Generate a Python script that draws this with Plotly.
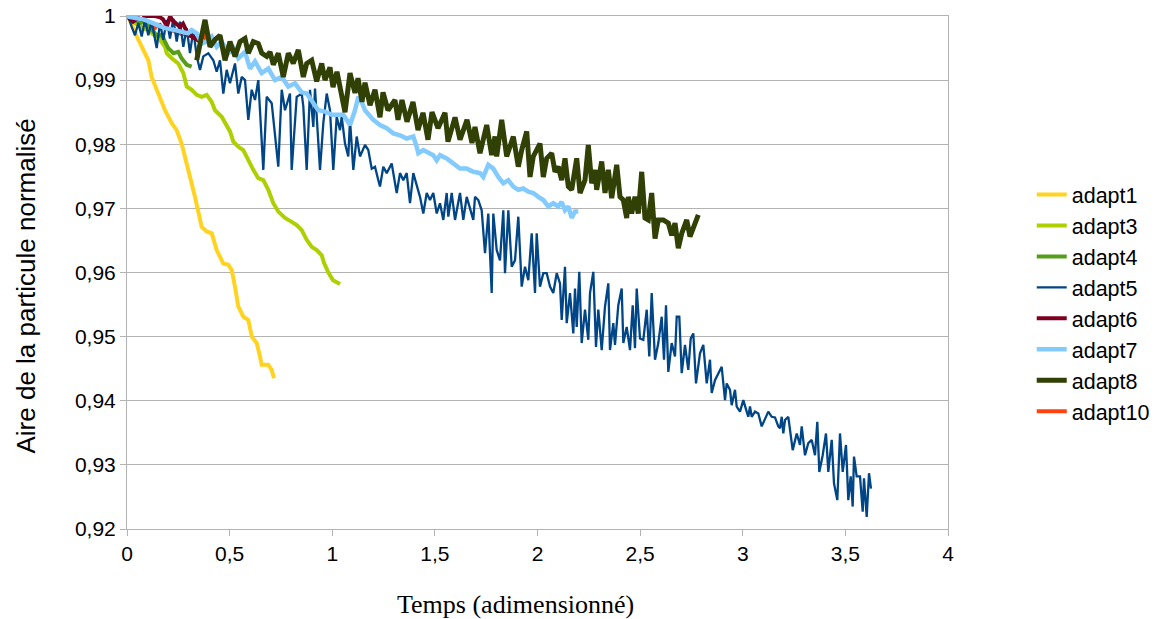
import plotly.graph_objects as go

# ---------------- data ----------------
adapt1_t = [0, 0.0063, 0.055, 0.104, 0.120, 0.152, 0.185, 0.218, 0.242, 0.266, 0.283, 0.307, 0.331,
            0.347, 0.364, 0.388, 0.413, 0.437, 0.469, 0.494, 0.510, 0.526, 0.542, 0.567, 0.591, 0.608,
            0.632, 0.648, 0.656, 0.688, 0.705, 0.716]
adapt1_a = [1.0, 0.9999, 0.9963, 0.9931, 0.9905, 0.9879, 0.9853, 0.9833, 0.9822, 0.9801, 0.9781, 0.9749,
            0.9718, 0.9698, 0.9671, 0.9664, 0.9661, 0.9635, 0.9614, 0.9612, 0.9604, 0.9578, 0.9547, 0.9531,
            0.9526, 0.9500, 0.9490, 0.9469, 0.9456, 0.9456, 0.9448, 0.9435]

adapt3_t = [0, 0.0063, 0.039, 0.0716, 0.1038, 0.1364, 0.1608, 0.1851, 0.1934, 0.2178, 0.2499, 0.2743,
            0.2909, 0.3152, 0.3396, 0.3639, 0.3883, 0.4127, 0.4287, 0.4614, 0.4857, 0.5018, 0.5179, 0.5423,
            0.5666, 0.5910, 0.6153, 0.6397, 0.6641, 0.6884, 0.7128, 0.7371, 0.7698, 0.8024, 0.8268, 0.8512,
            0.8755, 0.8999, 0.9242, 0.9486, 0.9598, 0.9793, 1.0037, 1.0378]
adapt3_a = [1.0, 0.9999, 0.9989, 0.9981, 0.9978, 0.9970, 0.9963, 0.9952, 0.9942, 0.9934, 0.9926, 0.9911,
            0.9890, 0.9885, 0.9877, 0.9874, 0.9877, 0.9866, 0.9853, 0.9843, 0.9830, 0.9820, 0.9804, 0.9796,
            0.9791, 0.9775, 0.9760, 0.9747, 0.9744, 0.9729, 0.9708, 0.9695, 0.9685, 0.9679, 0.9674, 0.9666,
            0.9651, 0.9640, 0.9635, 0.9627, 0.9615, 0.9601, 0.9588, 0.9582]

adapt4_t = [0, 0.0063, 0.039, 0.063, 0.088, 0.104, 0.128, 0.152, 0.169, 0.185, 0.201, 0.226, 0.250,
            0.266, 0.291, 0.315]
adapt4_a = [1.0, 0.9999, 0.9994, 0.9989, 0.9991, 0.9984, 0.9976, 0.9968, 0.9971, 0.9960, 0.9950, 0.9942,
            0.9944, 0.9934, 0.9924, 0.9921]

adapt5_t = [0, 0.0063, 0.0229, 0.0390, 0.0551, 0.0716, 0.0877, 0.1038, 0.1203, 0.1447, 0.1608, 0.1769,
            0.1934, 0.2095, 0.2256, 0.2421, 0.2582, 0.2743, 0.2909, 0.3069, 0.3230, 0.3396, 0.3557, 0.3717,
            0.3961, 0.4205, 0.4370, 0.4531, 0.4692, 0.4857, 0.5018, 0.5262, 0.5423, 0.5588, 0.5749, 0.5910,
            0.6075, 0.6236, 0.6397, 0.6641, 0.6806, 0.7050, 0.7371, 0.7537, 0.7698, 0.7941, 0.8024, 0.8268,
            0.8512, 0.8590, 0.8755, 0.8916, 0.9077, 0.9160, 0.9403, 0.9564, 0.9730, 0.9890, 1.0051, 1.0217,
            1.0378, 1.0460, 1.0621, 1.0782, 1.0865, 1.1026, 1.1191, 1.1352, 1.1596, 1.1756, 1.1922, 1.2083,
            1.2244, 1.2326, 1.2487, 1.2653, 1.2896, 1.3140, 1.3301, 1.3462, 1.3627, 1.3788, 1.3949, 1.4114,
            1.4275, 1.4436, 1.4602, 1.4762, 1.4923, 1.5089, 1.5250, 1.5411, 1.5576, 1.5654, 1.5820, 1.5981,
            1.6224, 1.6385, 1.6551, 1.6872, 1.6955, 1.7116, 1.7281, 1.7442, 1.7603, 1.7768, 1.7847, 1.8012,
            1.8173, 1.8334, 1.8416, 1.8578, 1.8743, 1.8904, 1.9065, 1.9230, 1.9391, 1.9552, 1.9717, 1.9878,
            1.9961, 2.0122, 2.0283, 2.0448, 2.0609, 2.0770, 2.0936, 2.1096, 2.1179, 2.1340, 2.1423, 2.1583,
            2.1744, 2.1827, 2.1910, 2.2036, 2.2153, 2.2314, 2.2475, 2.2558, 2.2719, 2.2850, 2.2962, 2.3128,
            2.3289, 2.3450, 2.3532, 2.3693, 2.3776, 2.3937, 2.4102, 2.4181, 2.4346, 2.4507, 2.4638, 2.4750,
            2.4833, 2.4994, 2.5155, 2.5321, 2.5447, 2.5564, 2.5725, 2.5886, 2.6051, 2.6163, 2.6261, 2.6373,
            2.6538, 2.6699, 2.6782, 2.6909, 2.7026, 2.7186, 2.7347, 2.7464, 2.7591, 2.7722, 2.7917, 2.8078,
            2.8244, 2.8404, 2.8487, 2.8648, 2.8809, 2.8974, 2.9135, 2.9218, 2.9379, 2.9461, 2.9622, 2.9705,
            2.9866, 3.0027, 3.0192, 3.0270, 3.0353, 3.0436, 3.0597, 3.0758, 3.0923, 3.1084, 3.1245, 3.1410,
            3.1571, 3.1732, 3.1815, 3.1897, 3.1976, 3.2058, 3.2219, 3.2434, 3.2629, 3.2789, 3.2872, 3.3033,
            3.3194, 3.3359, 3.3520, 3.3632, 3.3730, 3.3895, 3.4056, 3.4168, 3.4334, 3.4446, 3.4607, 3.4738,
            3.4870, 3.5030, 3.5143, 3.5260, 3.5357, 3.5420, 3.5552, 3.5713, 3.5844, 3.5907, 3.6039, 3.6151,
            3.6248]
adapt5_a = [1.0, 0.9999, 0.9983, 0.9970, 0.9989, 0.9968, 0.9994, 0.9970, 0.9991, 0.9950, 0.9989, 0.9963,
            0.9994, 0.9965, 0.9996, 0.9960, 0.9991, 0.9952, 0.9981, 0.9942, 0.9978, 0.9937, 0.9916, 0.9937,
            0.9942, 0.9931, 0.9913, 0.9931, 0.9879, 0.9916, 0.9895, 0.9926, 0.9879, 0.9905, 0.9900, 0.9838,
            0.9885, 0.9869, 0.9900, 0.9760, 0.9874, 0.9864, 0.9765, 0.9885, 0.9853, 0.9879, 0.9760, 0.9874,
            0.9879, 0.9859, 0.9760, 0.9885, 0.9827, 0.9887, 0.9760, 0.9833, 0.9879, 0.9853, 0.9760, 0.9843,
            0.9822, 0.9843, 0.9801, 0.9781, 0.9838, 0.9760, 0.9812, 0.9781, 0.9799, 0.9791, 0.9762, 0.9765,
            0.9744, 0.9734, 0.9765, 0.9755, 0.9770, 0.9724, 0.9755, 0.9744, 0.9755, 0.9708, 0.9755, 0.9734,
            0.9718, 0.9692, 0.9724, 0.9713, 0.9724, 0.9692, 0.9708, 0.9682, 0.9724, 0.9687, 0.9724, 0.9682,
            0.9724, 0.9682, 0.9718, 0.9682, 0.9718, 0.9713, 0.9697, 0.9630, 0.9692, 0.9568, 0.9692, 0.9635,
            0.9619, 0.9697, 0.9599, 0.9697, 0.9609, 0.9619, 0.9687, 0.9578, 0.9609, 0.9588, 0.9661, 0.9568,
            0.9661, 0.9578, 0.9599, 0.9599, 0.9578, 0.9568, 0.9599, 0.9583, 0.9526, 0.9609, 0.9521, 0.9568,
            0.9505, 0.9575, 0.9515, 0.9601, 0.9490, 0.9542, 0.9495, 0.9568, 0.9601, 0.9484, 0.9542, 0.9479,
            0.9547, 0.9583, 0.9479, 0.9521, 0.9487, 0.9549, 0.9575, 0.9490, 0.9515, 0.9479, 0.9549, 0.9482,
            0.9575, 0.9497, 0.9495, 0.9542, 0.9469, 0.9568, 0.9464, 0.9490, 0.9531, 0.9464, 0.9549, 0.9445,
            0.9490, 0.9469, 0.9531, 0.9531, 0.9443, 0.9487, 0.9448, 0.9497, 0.9505, 0.9427, 0.9474, 0.9487,
            0.9427, 0.9464, 0.9412, 0.9432, 0.9443, 0.9453, 0.9401, 0.9427, 0.9417, 0.9393, 0.9417, 0.9391,
            0.9383, 0.9401, 0.9383, 0.9375, 0.9391, 0.9375, 0.9383, 0.9380, 0.9360, 0.9373, 0.9383, 0.9375,
            0.9374, 0.9360, 0.9357, 0.9375, 0.9349, 0.9370, 0.9375, 0.9323, 0.9349, 0.9331, 0.9360, 0.9315,
            0.9334, 0.9339, 0.9315, 0.9367, 0.9289, 0.9315, 0.9349, 0.9289, 0.9339, 0.9271, 0.9245, 0.9349,
            0.9289, 0.9331, 0.9245, 0.9282, 0.9235, 0.9313, 0.9282, 0.9282, 0.9227, 0.9279, 0.9219, 0.9287,
            0.9263]

adapt6_t = [0, 0.005, 0.029, 0.054, 0.073, 0.088, 0.112, 0.136, 0.161, 0.175, 0.195, 0.210, 0.219,
            0.239, 0.258, 0.273, 0.288, 0.307, 0.326, 0.346, 0.361, 0.370]
adapt6_a = [1.0, 0.9998, 0.9991, 0.9997, 0.9994, 1.0, 1.0, 1.0, 0.9998, 0.9995, 0.9984, 1.0, 0.9994,
            0.9988, 0.9983, 0.9988, 0.9978, 0.9970, 0.9966, 0.9963, 0.9959, 0.9961]

adapt7_t = [0, 0.0063, 0.0877, 0.1851, 0.2339, 0.2972, 0.3152, 0.3396, 0.3639, 0.3883, 0.4127, 0.4370,
            0.4614, 0.4935, 0.5179, 0.5423, 0.5749, 0.5993, 0.6236, 0.6563, 0.6884, 0.7211, 0.7537, 0.7859,
            0.8185, 0.8512, 0.8755, 0.9077, 0.9320, 0.9647, 0.9973, 1.0217, 1.0539, 1.0865, 1.1108, 1.1269,
            1.1435, 1.1596, 1.1839, 1.2000, 1.2326, 1.2653, 1.2974, 1.3301, 1.3627, 1.3949, 1.4114, 1.4192,
            1.4436, 1.4680, 1.4923, 1.5089, 1.5250, 1.5576, 1.5898, 1.6224, 1.6551, 1.6872, 1.7199, 1.7360,
            1.7603, 1.7847, 1.8090, 1.8334, 1.8578, 1.8821, 1.9065, 1.9308, 1.9552, 1.9795, 2.0039, 2.0283,
            2.0526, 2.0770, 2.1013, 2.1179, 2.1340, 2.1501, 2.1666, 2.1827, 2.1988]
adapt7_a = [1.0, 0.9999, 0.9994, 0.9981, 0.9978, 0.9973, 0.9978, 0.9973, 0.9957, 0.9960, 0.9968, 0.9952,
            0.9960, 0.9942, 0.9950, 0.9934, 0.9944, 0.9918, 0.9929, 0.9911, 0.9918, 0.9900, 0.9905, 0.9890,
            0.9895, 0.9881, 0.9879, 0.9864, 0.9853, 0.9851, 0.9846, 0.9846, 0.9846, 0.9830, 0.9853, 0.9874,
            0.9866, 0.9853, 0.9843, 0.9838, 0.9830, 0.9825, 0.9817, 0.9814, 0.9809, 0.9812, 0.9796, 0.9786,
            0.9791, 0.9786, 0.9783, 0.9775, 0.9783, 0.9778, 0.9770, 0.9762, 0.9762, 0.9757, 0.9755, 0.9749,
            0.9768, 0.9762, 0.9749, 0.9739, 0.9744, 0.9734, 0.9729, 0.9731, 0.9726, 0.9724, 0.9718, 0.9713,
            0.9703, 0.9708, 0.9703, 0.9710, 0.9697, 0.9703, 0.9685, 0.9695, 0.9695]

adapt8_t = [0.3396, 0.3800, 0.4044, 0.4287, 0.4531, 0.4775, 0.5018, 0.5262, 0.5505, 0.5749, 0.5910,
            0.6153, 0.6397, 0.6563, 0.6806, 0.6967, 0.7128, 0.7371, 0.7615, 0.7859, 0.8102, 0.8346, 0.8590,
            0.8755, 0.8999, 0.9242, 0.9486, 0.9647, 0.9890, 1.0037, 1.0231, 1.0621, 1.0865, 1.1108, 1.1255,
            1.1449, 1.1596, 1.1839, 1.2083, 1.2326, 1.2473, 1.2716, 1.3057, 1.3203, 1.3398, 1.3642, 1.3934,
            1.4178, 1.4421, 1.4665, 1.4860, 1.5152, 1.5493, 1.5639, 1.5981, 1.6224, 1.6565, 1.6809, 1.6955,
            1.7199, 1.7525, 1.7768, 1.7929, 1.8012, 1.8256, 1.8499, 1.8821, 1.9065, 1.9230, 1.9474, 1.9635,
            1.9795, 2.0122, 2.0283, 2.0448, 2.0692, 2.0853, 2.1013, 2.1179, 2.1340, 2.1501, 2.1666, 2.1910,
            2.2071, 2.2314, 2.2475, 2.2641, 2.2802, 2.2884, 2.3128, 2.3289, 2.3450, 2.3615, 2.3859, 2.4019,
            2.4181, 2.4346, 2.4424, 2.4589, 2.4750, 2.4911, 2.5077, 2.5237, 2.5398, 2.5564, 2.5725, 2.5886,
            2.6129, 2.6373, 2.6538, 2.6699, 2.6860, 2.7026, 2.7269, 2.7430, 2.7674, 2.7834]
adapt8_a = [0.9931, 0.9994, 0.9952, 0.9963, 0.9970, 0.9931, 0.9960, 0.9937, 0.9960, 0.9965, 0.9942,
            0.9960, 0.9957, 0.9942, 0.9937, 0.9944, 0.9924, 0.9942, 0.9905, 0.9942, 0.9926, 0.9947, 0.9905,
            0.9926, 0.9931, 0.9898, 0.9926, 0.9900, 0.9920, 0.9889, 0.9913, 0.9850, 0.9911, 0.9880, 0.9903,
            0.9866, 0.9896, 0.9861, 0.9885, 0.9842, 0.9881, 0.9853, 0.9869, 0.9838, 0.9869, 0.9835, 0.9866,
            0.9822, 0.9849, 0.9807, 0.9850, 0.9825, 0.9849, 0.9804, 0.9842, 0.9807, 0.9838, 0.9802, 0.9827,
            0.9786, 0.9830, 0.9783, 0.9812, 0.9781, 0.9838, 0.9781, 0.9812, 0.9765, 0.9791, 0.9820, 0.9749,
            0.9781, 0.9801, 0.9749, 0.9778, 0.9786, 0.9757, 0.9765, 0.9744, 0.9778, 0.9734, 0.9729, 0.9778,
            0.9724, 0.9744, 0.9799, 0.9739, 0.9760, 0.9729, 0.9773, 0.9724, 0.9760, 0.9716, 0.9768, 0.9718,
            0.9713, 0.9685, 0.9718, 0.9692, 0.9718, 0.9692, 0.9757, 0.9685, 0.9682, 0.9724, 0.9653, 0.9682,
            0.9682, 0.9677, 0.9658, 0.9677, 0.9638, 0.9661, 0.9682, 0.9656, 0.9677, 0.9690]

adapt10_t = [0, 0.005, 0.039, 0.073, 0.112, 0.132, 0.150, 0.185, 0.219, 0.258, 0.297, 0.331, 0.356,
             0.372, 0.388, 0.400]
adapt10_a = [1.0, 0.9998, 0.9991, 0.9981, 0.9986, 0.9980, 0.9986, 0.9981, 0.9978, 0.9973, 0.9970, 0.9966,
             0.9966, 0.9972, 0.9960, 0.9968]

x_tickvals = [0, 0.5, 1, 1.5, 2, 2.5, 3, 3.5, 4]
x_ticktext = ["0", "0,5", "1", "1,5", "2", "2,5", "3", "3,5", "4"]
y_tickvals = [0.92, 0.93, 0.94, 0.95, 0.96, 0.97, 0.98, 0.99, 1.0]
y_ticktext = ["0,92", "0,93", "0,94", "0,95", "0,96", "0,97", "0,98", "0,99", "1"]

# (name, t, area, colour, width, legend rank); adapt10 is drawn first so it sits underneath
series = [
    ("adapt10", adapt10_t, adapt10_a, "#ff420e", 4.0, 8),
    ("adapt1", adapt1_t, adapt1_a, "#ffd320", 4.0, 1),
    ("adapt3", adapt3_t, adapt3_a, "#aecf00", 4.0, 2),
    ("adapt4", adapt4_t, adapt4_a, "#579d1c", 4.0, 3),
    ("adapt5", adapt5_t, adapt5_a, "#004586", 2.3, 4),
    ("adapt6", adapt6_t, adapt6_a, "#7e0021", 4.0, 5),
    ("adapt7", adapt7_t, adapt7_a, "#83caff", 4.5, 6),
    ("adapt8", adapt8_t, adapt8_a, "#314004", 5.0, 7),
]

fig = go.Figure()
for name, t, a, col, w, rank in series:
    fig.add_trace(go.Scatter(x=t, y=a, mode="lines", name=name, legendrank=rank,
                             line=dict(color=col, width=w)))

grid = "#b3b3b3"
fig.update_layout(
    width=1162, height=619,
    margin=dict(l=127, r=214, t=16, b=90, autoexpand=False),
    paper_bgcolor="white", plot_bgcolor="white",
    font=dict(family="Liberation Sans, Arial, sans-serif", size=21, color="#000000"),
    showlegend=True,
    legend=dict(x=1.102, xanchor="left", y=0.4405, yanchor="middle",
                font=dict(size=21.5), bgcolor="rgba(0,0,0,0)", borderwidth=0),
    xaxis=dict(range=[0, 4], tickvals=x_tickvals, ticktext=x_ticktext,
               showgrid=False, zeroline=False, showline=True, linecolor=grid, linewidth=1,
               mirror=True, ticks="outside", ticklen=6, tickcolor=grid,
               tickfont=dict(size=21)),
    yaxis=dict(range=[0.92, 1.0], tickvals=y_tickvals, ticktext=y_ticktext,
               showgrid=True, gridcolor=grid, gridwidth=1, zeroline=False,
               showline=True, linecolor=grid, linewidth=1, mirror=True,
               ticks="outside", ticklen=6, tickcolor=grid, tickfont=dict(size=21)),
    annotations=[
        dict(text="Aire de la particule normalisé", xref="paper", yref="paper",
             x=-0.1242, y=0.4727, xanchor="center", yanchor="middle", textangle=-90,
             showarrow=False, font=dict(size=26, family="Liberation Sans, Arial, sans-serif")),
        dict(text="Temps (adimensionné)", xref="paper", yref="paper",
             x=0.4726, y=-0.1462, xanchor="center", yanchor="middle",
             showarrow=False, font=dict(size=26, family="Liberation Serif, Times New Roman, serif")),
    ],
)

fig.write_html("out.html", config={"displayModeBar": False},
               post_script="document.body.style.margin='0';document.body.style.padding='0';")
